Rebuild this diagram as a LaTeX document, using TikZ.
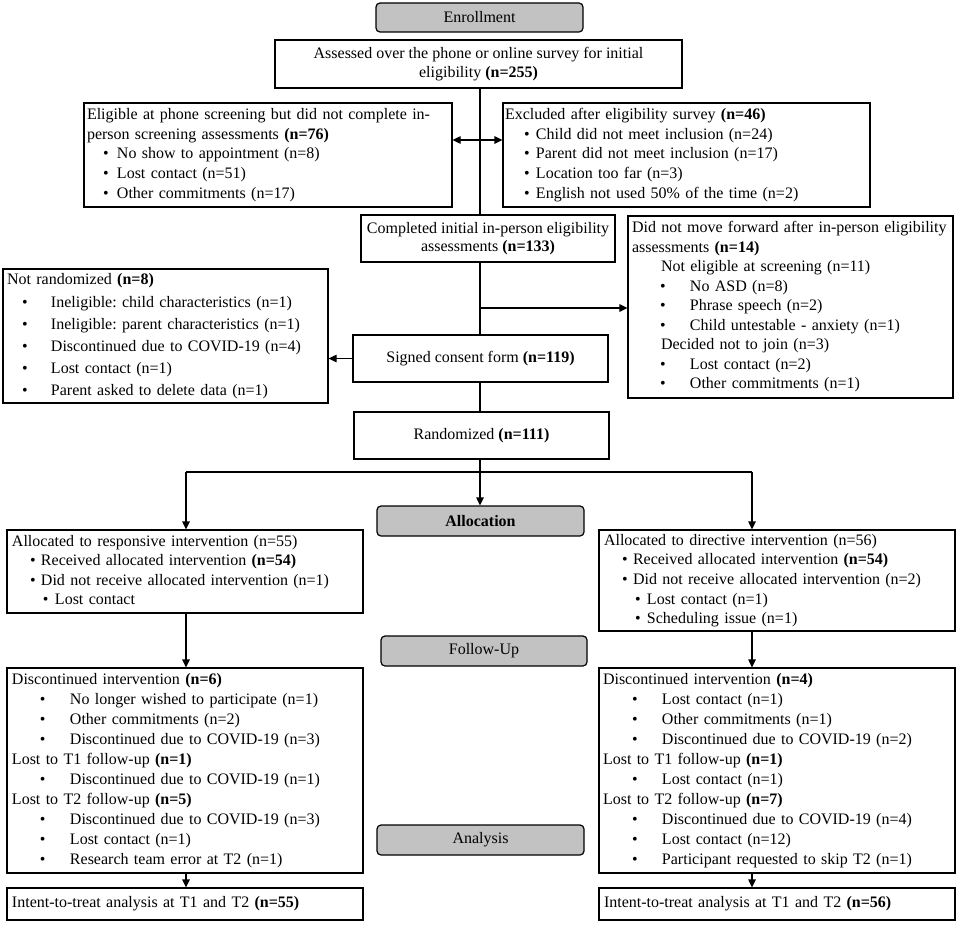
\documentclass[tikz,border=0pt]{standalone}
\usepackage{fontspec}
\setmainfont{Liberation Serif}
\usetikzlibrary{arrows.meta}
\frenchspacing
\newcommand\bu[3]{\hspace*{#1pt}\makebox[#2pt][l]{\textbullet}#3}
\newcommand\tb[1]{\begin{tabular}{@{}l@{}}#1\end{tabular}}
\begin{document}
\begin{tikzpicture}[x=1pt,y=-1pt,
  font=\fontsize{16}{19.6}\selectfont,
  every path/.style={line width=1.2pt},
  tip/.style={-{Triangle[length=8pt,width=7.5pt]}},
  stage/.style={draw, rounded corners=4pt, fill=black!24, inner sep=0pt, align=center},
  cbox/.style={draw, inner sep=0pt, align=center},
  lbox/.style={draw, inner ysep=0pt, align=left}
]
\useasboundingbox (0,0) rectangle (960,942);
% stage labels
\node[stage, minimum width=207, minimum height=29] (enroll) at (479.5,17.5) {Enrollment};
\node[stage, minimum width=207, minimum height=30] (alloc) at (480.5,521) {\textbf{Allocation}};
\node[stage, minimum width=206, minimum height=30] (follow) at (484,651) {Follow-Up};
\node[stage, minimum width=207, minimum height=30] (analysis) at (480.5,840) {Analysis};
% centered boxes
\node[cbox, minimum width=407, minimum height=48, font=\fontsize{16}{18.4}\selectfont] (assess) at (478.5,64) {Assessed over the phone or online survey for initial\\eligibility \textbf{(n=255)}};
\node[cbox, minimum width=254, minimum height=47, font=\fontsize{16}{18.2}\selectfont] (compl) at (488,238.5) {Completed initial in-person eligibility\\assessments \textbf{(n=133)}};
\node[cbox, minimum width=255, minimum height=47] (signed) at (480.5,358.5) {Signed consent form \textbf{(n=119)}};
\node[cbox, minimum width=255, minimum height=47] (rand) at (481.5,435.5) {Randomized \textbf{(n=111)}};
% left-aligned boxes
\node[lbox, inner xsep=3pt, text width=362pt, minimum height=104] (elig) at (268,155) {\tb{%
Eligible at phone screening but did not complete in-\\
person screening assessments \textbf{(n=76)}\\
\bu{16}{14}{No show to appointment (n=8)}\\
\bu{16}{14}{Lost contact (n=51)}\\
\bu{16}{14}{Other commitments (n=17)}}};
\node[lbox, inner xsep=2pt, text width=363pt, minimum height=104] (excl) at (686.5,155) {\tb{%
Excluded after eligibility survey \textbf{(n=46)}\\
\bu{19}{12}{Child did not meet inclusion (n=24)}\\
\bu{19}{12}{Parent did not meet inclusion (n=17)}\\
\bu{19}{12}{Location too far (n=3)}\\
\bu{19}{12}{English not used 50\% of the time (n=2)}}};
\node[lbox, inner xsep=4pt, text width=317pt, minimum height=182, font=\fontsize{16}{19.5}\selectfont] (dnmf) at (790.5,307) {\tb{%
Did not move forward after in-person eligibility\\
assessments \textbf{(n=14)}\\
\hspace*{29pt}Not eligible at screening (n=11)\\
\bu{28}{30}{No ASD (n=8)}\\
\bu{28}{30}{Phrase speech (n=2)}\\
\bu{28}{30}{Child untestable - anxiety (n=1)}\\
\hspace*{29pt}Decided not to join (n=3)\\
\bu{28}{30}{Lost contact (n=2)}\\
\bu{28}{30}{Other commitments (n=1)}}};
\node[lbox, inner xsep=4pt, text width=317pt, minimum height=134, font=\fontsize{16}{22.2}\selectfont] (notrand) at (165.5,336) {\tb{%
Not randomized \textbf{(n=8)}\\
\bu{15}{29}{Ineligible: child characteristics (n=1)}\\
\bu{15}{29}{Ineligible: parent characteristics (n=1)}\\
\bu{15}{29}{Discontinued due to COVID-19 (n=4)}\\
\bu{15}{29}{Lost contact (n=1)}\\
\bu{15}{29}{Parent asked to delete data (n=1)}}};
\node[lbox, inner xsep=5pt, text width=346pt, minimum height=83] (resp) at (185,571.5) {\tb{%
Allocated to responsive intervention (n=55)\\
\bu{18}{11}{Received allocated intervention \textbf{(n=54)}}\\
\bu{18}{11}{Did not receive allocated intervention (n=1)}\\
\bu{31}{12}{Lost contact}}};
\node[lbox, inner xsep=5pt, text width=346pt, minimum height=101] (dir) at (777,580.5) {\tb{%
Allocated to directive intervention (n=56)\\
\bu{18}{11}{Received allocated intervention \textbf{(n=54)}}\\
\bu{18}{11}{Did not receive allocated intervention (n=2)}\\
\bu{31}{12}{Lost contact (n=1)}\\
\bu{31}{12}{Scheduling issue (n=1)}}};
\node[lbox, inner xsep=5pt, text width=346pt, minimum height=205, font=\fontsize{16}{20}\selectfont] (discL) at (185,770.5) {\tb{%
Discontinued intervention \textbf{(n=6)}\\
\bu{28}{30}{No longer wished to participate (n=1)}\\
\bu{28}{30}{Other commitments (n=2)}\\
\bu{28}{30}{Discontinued due to COVID-19 (n=3)}\\
Lost to T1 follow-up \textbf{(n=1)}\\
\bu{28}{30}{Discontinued due to COVID-19 (n=1)}\\
Lost to T2 follow-up \textbf{(n=5)}\\
\bu{28}{30}{Discontinued due to COVID-19 (n=3)}\\
\bu{28}{30}{Lost contact (n=1)}\\
\bu{28}{30}{Research team error at T2 (n=1)}}};
\node[lbox, inner xsep=4pt, text width=348pt, minimum height=205, font=\fontsize{16}{20}\selectfont] (discR) at (777,770.5) {\tb{%
Discontinued intervention \textbf{(n=4)}\\
\bu{29}{30}{Lost contact (n=1)}\\
\bu{29}{30}{Other commitments (n=1)}\\
\bu{29}{30}{Discontinued due to COVID-19 (n=2)}\\
Lost to T1 follow-up \textbf{(n=1)}\\
\bu{29}{30}{Lost contact (n=1)}\\
Lost to T2 follow-up \textbf{(n=7)}\\
\bu{29}{30}{Discontinued due to COVID-19 (n=4)}\\
\bu{29}{30}{Lost contact (n=12)}\\
\bu{29}{30}{Participant requested to skip T2 (n=1)}}};
\node[lbox, inner xsep=5pt, text width=346pt, minimum height=32] (ittL) at (185,904) {\tb{Intent-to-treat analysis at T1 and T2 \textbf{(n=55)}}};
\node[lbox, inner xsep=5pt, text width=346pt, minimum height=32] (ittR) at (777,904) {\tb{Intent-to-treat analysis at T1 and T2 \textbf{(n=56)}}};
% coordinates
\coordinate (sx) at (480,0);
\coordinate (r1) at (480,140);
\coordinate (r2) at (480,308);
\coordinate (sp) at (480,472);
\coordinate (spL) at (186,472);
\coordinate (spR) at (752,472);
% connectors
\draw (assess.south -| sx) -- (compl.north -| sx);
\draw[{Triangle[length=8pt,width=7.5pt]}-{Triangle[length=8pt,width=7.5pt]}] (r1 -| elig.east) -- (r1 -| excl.west);
\draw (compl.south -| sx) -- (signed.north -| sx);
\draw[tip] (r2) -- (r2 -| dnmf.west);
\draw[tip] (signed.west) -- (signed.west -| notrand.east);
\draw (signed.south -| sx) -- (rand.north -| sx);
\draw (rand.south -| sx) -- (sp);
\draw (spL) -- (spR);
\draw[tip] (sp) -- (alloc.north -| sp);
\draw[tip] (spL) -- (resp.north -| spL);
\draw[tip] (spR) -- (dir.north -| spR);
\draw[tip] (resp.south -| spL) -- (discL.north -| spL);
\draw[tip] (dir.south -| spR) -- (discR.north -| spR);
\draw[tip] (discL.south -| spL) -- (ittL.north -| spL);
\draw[tip] (discR.south -| spR) -- (ittR.north -| spR);
\end{tikzpicture}
\end{document}
